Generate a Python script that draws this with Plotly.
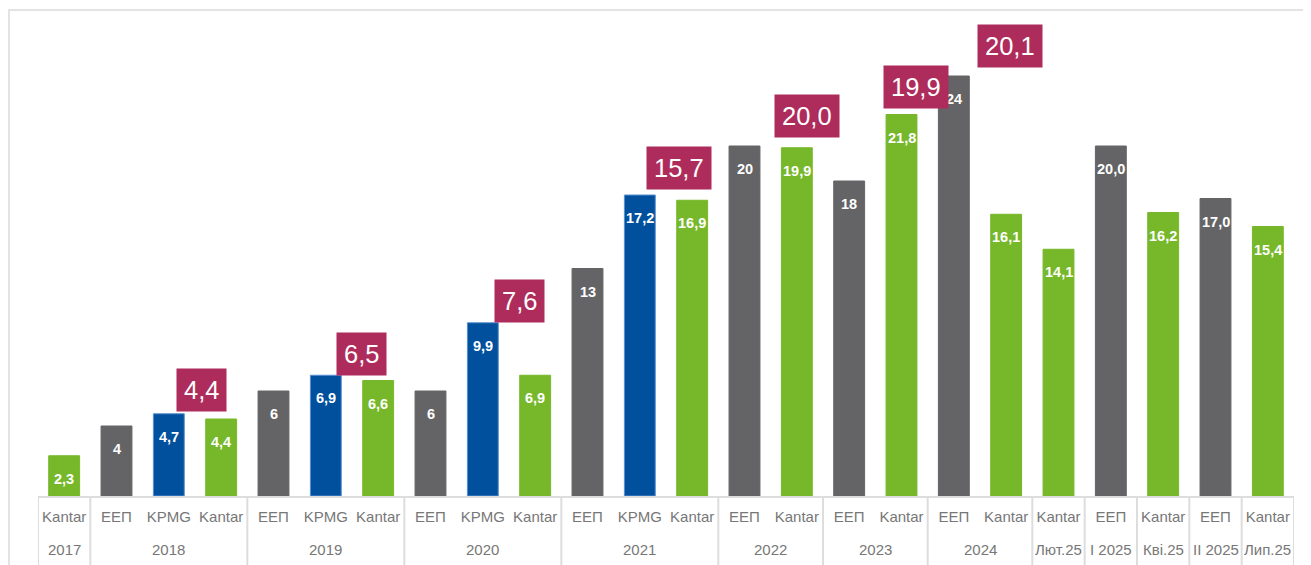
import plotly.graph_objects as go

# ---- data ----
periods = ["2017", "2018", "2018", "2018", "2019", "2019", "2019",
           "2020", "2020", "2020", "2021", "2021", "2021",
           "2022", "2022", "2023", "2023", "2024", "2024",
           "Лют.25", "I 2025", "Кві.25", "II 2025", "Лип.25"]
sources = ["Kantar", "ЕЕП", "KPMG", "Kantar", "ЕЕП", "KPMG", "Kantar",
           "ЕЕП", "KPMG", "Kantar", "ЕЕП", "KPMG", "Kantar",
           "ЕЕП", "Kantar", "ЕЕП", "Kantar", "ЕЕП", "Kantar",
           "Kantar", "ЕЕП", "Kantar", "ЕЕП", "Kantar"]
values = [2.3, 4, 4.7, 4.4, 6, 6.9, 6.6,
          6, 9.9, 6.9, 13, 17.2, 16.9,
          20, 19.9, 18, 21.8, 24, 16.1,
          14.1, 20.0, 16.2, 17.0, 15.4]
value_labels = ["2,3", "4", "4,7", "4,4", "6", "6,9", "6,6",
                "6", "9,9", "6,9", "13", "17,2", "16,9",
                "20", "19,9", "18", "21,8", "24", "16,1",
                "14,1", "20,0", "16,2", "17,0", "15,4"]

highlight_labels = ["4,4", "6,5", "7,6", "15,7", "20,0", "19,9", "20,1"]
highlight_x = [2.62, 5.69, 8.70, 11.74, 14.19, 16.27, 18.07]
highlight_y = [6.06, 8.09, 11.17, 18.77, 21.69, 23.40, 25.74]

source_colors = {"Kantar": "#76B82A", "ЕЕП": "#646466", "KPMG": "#00509D"}
source_edges = {"Kantar": "#76B82A", "ЕЕП": "#646466", "KPMG": "#5B8FD0"}

FONT = "Liberation Sans, Arial"
GRID = "#DDDDDD"

idx = list(range(len(values)))

fig = go.Figure()
fig.add_trace(go.Bar(
    x=idx,
    y=values,
    marker=dict(color=[source_colors[s] for s in sources],
                line=dict(color=[source_edges[s] for s in sources], width=1)),
    hoverinfo="skip",
))

# groups of consecutive periods (outer axis level)
groups = []
start = 0
for i in range(1, len(periods) + 1):
    if i == len(periods) or periods[i] != periods[start]:
        groups.append((periods[start], start, i - 1))
        start = i

annotations = []
for i, (v, lab) in enumerate(zip(values, value_labels)):
    annotations.append(dict(
        x=i, y=v, xref="x", yref="y", text=lab, showarrow=False,
        yanchor="middle", yshift=-23,
        font=dict(family=FONT, size=14.5, color="white", weight="bold"),
    ))
for hx, hy, hl in zip(highlight_x, highlight_y, highlight_labels):
    annotations.append(dict(
        x=hx, y=hy, xref="x", yref="y", text=hl, showarrow=False,
        xanchor="center", yanchor="middle",
        bgcolor="#AE2C5B", borderpad=7,
        font=dict(family=FONT, size=25.5, color="white"),
    ))
for name, s, e in groups:
    annotations.append(dict(
        x=(s + e) / 2, y=0, xref="x", yref="paper", text=name, showarrow=False,
        xanchor="center", yanchor="middle", yshift=-53,
        font=dict(family=FONT, size=15, color="#777777"),
    ))

shapes = [dict(type="rect", xref="paper", yref="paper",
               x0=-0.0231, x1=1.2, y0=-0.4, y1=1.021,
               line=dict(color="#E3E3E3", width=2), layer="below")]
bounds = [s - 0.5 for _, s, _ in groups] + [groups[-1][2] + 0.5]
for b in bounds:
    shapes.append(dict(type="line", xref="x", yref="paper",
                       x0=b, x1=b, y0=0, y1=-0.3,
                       line=dict(color=GRID, width=2)))

fig.update_layout(
    width=1303, height=557,
    margin=dict(l=30, r=17, t=12, b=69),
    paper_bgcolor="white", plot_bgcolor="white",
    showlegend=False,
    bargap=0.41,
    annotations=annotations,
    shapes=shapes,
)
fig.update_xaxes(
    range=[-0.5, len(values) - 0.5],
    tickmode="array", tickvals=idx, ticktext=sources,
    showline=True, linecolor=GRID, linewidth=2,
    showgrid=False, zeroline=False, ticks="",
    ticklabelstandoff=6,
    tickfont=dict(family=FONT, size=15, color="#777777"),
)
fig.update_yaxes(range=[0, 27.2], visible=False, showgrid=False, zeroline=False)

fig.write_html("out.html")
